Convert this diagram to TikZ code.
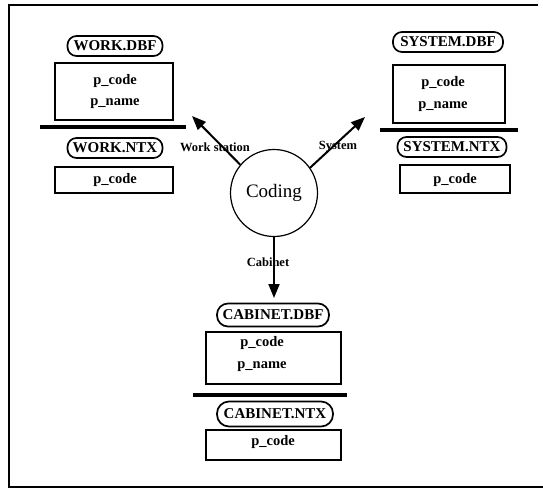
\documentclass[tikz,border=0pt]{standalone}
\usepackage{fontspec}
\setmainfont{Liberation Serif}
\usetikzlibrary{arrows.meta}

\tikzset{
  filename/.style={draw, line width=1.7pt, rounded corners=9pt, inner sep=0pt,
    minimum height=20pt, font=\fontsize{15}{17}\selectfont\bfseries},
  recbox/.style={draw, line width=1.7pt, inner sep=0pt},
  field/.style={inner sep=0pt, font=\fontsize{14.5}{16}\selectfont\bfseries},
  divider/.style={line width=3.2pt},
  flow/.style={line width=2pt, -{Triangle[length=14pt,width=11pt]}},
  flowlabel/.style={inner sep=0pt, font=\fontsize{12.5}{14}\selectfont\bfseries},
  process/.style={draw, circle, line width=1.2pt, minimum size=87pt, inner sep=0pt,
    font=\fontsize{19}{21}\selectfont},
}

\begin{document}
\begin{tikzpicture}[x=1pt, y=-1pt]
  \useasboundingbox (0,0) rectangle (543,491);

  % frame (open on the right)
  \draw[line width=1.8pt] (538,5) -- (9,5) -- (9,487) -- (543,487);

  % central process
  \node[process] (coding) at (274,193) {Coding};

  % WORK files
  \node[filename, minimum width=95pt] (wdbf) at (115,46) {WORK.DBF};
  \node[recbox, minimum width=118pt, minimum height=57pt] (wbox) at (114,91.5) {};
  \node[field] (wcode) at (115,81) {p\_code};
  \node[field] (wname) at (115,104) {p\_name};
  \coordinate (wsepL) at (40,127);
  \coordinate (wsepR) at (186,127);
  \draw[divider] (wsepL) -- (wsepR);
  \node[filename, minimum width=95pt] (wntx) at (115,148) {WORK.NTX};
  \node[recbox, minimum width=118pt, minimum height=26pt] (wnbox) at (114,180) {};
  \node[field] (wncode) at (115,180) {p\_code};

  % SYSTEM files
  \node[filename, minimum width=110pt] (sdbf) at (448,42) {SYSTEM.DBF};
  \node[recbox, minimum width=112pt, minimum height=58pt] (sbox) at (449,94) {};
  \node[field] (scode) at (443,83) {p\_code};
  \node[field] (sname) at (443,107) {p\_name};
  \coordinate (ssepL) at (380,130);
  \coordinate (ssepR) at (518,130);
  \draw[divider] (ssepL) -- (ssepR);
  \node[filename, minimum width=109pt] (sntx) at (452,147) {SYSTEM.NTX};
  \node[recbox, minimum width=110pt, minimum height=28pt] (snbox) at (455,179) {};
  \node[field] (sncode) at (455,180) {p\_code};

  % CABINET files
  \node[filename, minimum width=112pt, minimum height=23pt, rounded corners=11pt] (cdbf) at (273,315) {CABINET.DBF};
  \node[recbox, minimum width=135pt, minimum height=52pt] (cbox) at (273.5,358) {};
  \node[field] (ccode) at (262,343) {p\_code};
  \node[field] (cname) at (262,367) {p\_name};
  \coordinate (csepL) at (193,395);
  \coordinate (csepR) at (347,395);
  \draw[divider] (csepL) -- (csepR);
  \node[filename, minimum width=116pt, minimum height=25pt, rounded corners=12pt] (cntx) at (275,414) {CABINET.NTX};
  \node[recbox, minimum width=135pt, minimum height=30pt] (cnbox) at (273.5,445) {};
  \node[field] (cncode) at (273,442) {p\_code};

  % flows out of the process
  \coordinate (wtip) at (192,116);
  \coordinate (stip) at (365,117);
  \coordinate (ctip) at (274,298);
  \draw[flow] (coding.140) -- (wtip);
  \draw[flow] (coding.35) -- (stip);
  \draw[flow] (coding.south) -- (ctip);

  \node[flowlabel] (lwork) at (215,147) {Work station};
  \node[flowlabel] (lsys) at (338,147) {System};
  \node[flowlabel] (lcab) at (268,262) {Cabinet};
\end{tikzpicture}
\end{document}
